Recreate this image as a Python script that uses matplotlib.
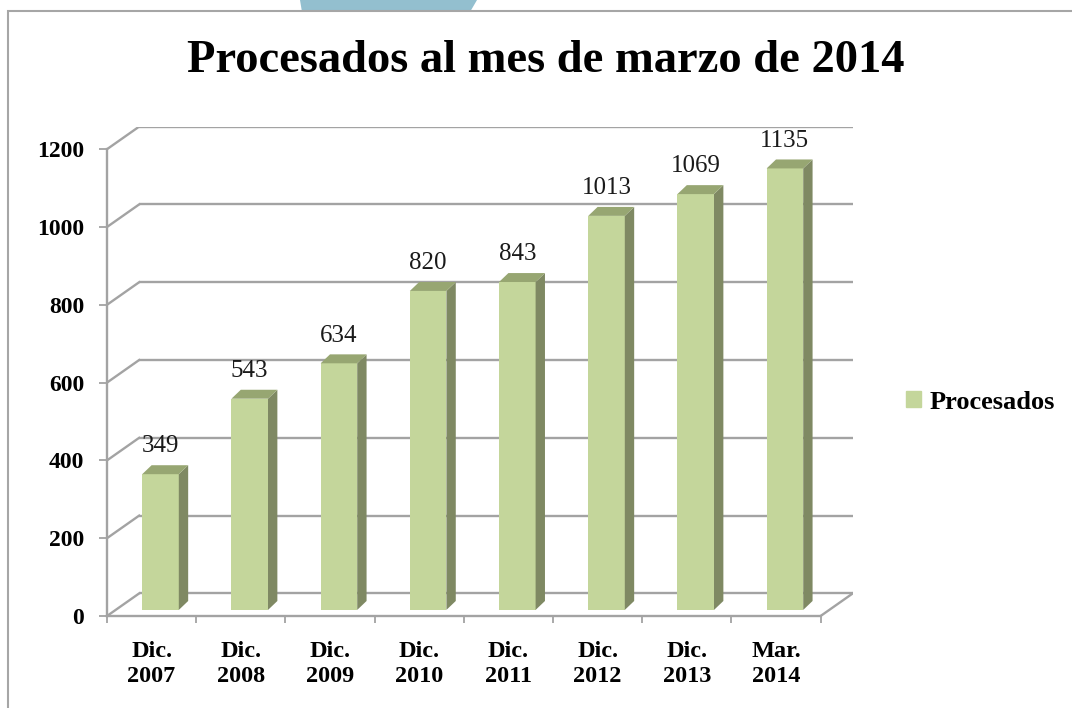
import numpy as np
from matplotlib import pyplot as plt
from matplotlib.patches import Polygon, Rectangle, Patch

# data
categories = ['Dic.\n2007', 'Dic.\n2008', 'Dic.\n2009', 'Dic.\n2010',
              'Dic.\n2011', 'Dic.\n2012', 'Dic.\n2013', 'Mar.\n2014']
procesados = [349, 543, 634, 820, 843, 1013, 1069, 1135]
yticks = [0, 200, 400, 600, 800, 1000, 1200]
series_name = 'Procesados'
title = 'Procesados al mes de marzo de 2014'

W, H = 1072, 708
serif = 'Liberation Serif'
front_c = '#c4d69b'
side_c = '#7f8963'
top_c = '#97a672'
grid_c = '#a3a3a3'

# fake 3d depth of the back wall and of the bars (data units)
wall_dx, wall_dy = 0.36, 58
off_x, off_y = 0.1, 15.6
bar_w = 0.41
bar_dx, bar_dy = 0.105, 23

fig = plt.figure(figsize=(W / 100, H / 100), dpi=100)

# plot box: x=-0.5 at px 107, y=0 at px 616
px_x, px_y = 89.2, 0.389
ax_w = (8 + wall_dx) * px_x
ax_h = (1200 + wall_dy) * px_y
ax = fig.add_axes([107 / W, (H - 616) / H, ax_w / W, ax_h / H])
ax.set_xlim(-0.5, 7.5 + wall_dx)
ax.set_ylim(0, 1200 + wall_dy)
ax.patch.set_visible(False)

# walls / gridlines
for v in yticks:
    ax.plot([-0.5 + wall_dx, 7.5 + wall_dx], [v + wall_dy, v + wall_dy],
            color=grid_c, lw=1.7, zorder=1, solid_capstyle='butt')
    ax.plot([-0.5, -0.5 + wall_dx], [v, v + wall_dy], color=grid_c, lw=1.7, zorder=1)
ax.plot([7.5, 7.5 + wall_dx], [0, wall_dy], color=grid_c, lw=1.7, zorder=1)

for s in ['top', 'right']:
    ax.spines[s].set_visible(False)
for s in ['left', 'bottom']:
    ax.spines[s].set_color(grid_c)
    ax.spines[s].set_linewidth(1.7)
ax.spines['left'].set_bounds(0, 1200)
ax.spines['bottom'].set_bounds(-0.5, 7.5)

# bars
x = np.arange(len(procesados))
vals = np.array(procesados)
lefts = x + off_x - bar_w / 2
rights = lefts + bar_w
tops = off_y + vals
ax.bar(x + off_x, vals, width=bar_w, bottom=off_y, color=front_c, zorder=3)
for l, r, t in zip(lefts, rights, tops):
    side = [(r, off_y), (r + bar_dx, off_y + bar_dy), (r + bar_dx, t + bar_dy), (r, t)]
    top = [(l, t), (r, t), (r + bar_dx, t + bar_dy), (l + bar_dx, t + bar_dy)]
    ax.add_patch(Polygon(side, closed=True, facecolor=side_c, edgecolor='none', zorder=3))
    ax.add_patch(Polygon(top, closed=True, facecolor=top_c, edgecolor='none', zorder=3))

for xi, t, v in zip(x + off_x, tops, procesados):
    ax.text(xi, t + bar_dy + 20, str(v), ha='center', va='bottom',
            fontsize=18, family=serif, color='#1a1a1a', zorder=4)

# ticks
ax.set_yticks(yticks)
ax.set_yticklabels([str(v) for v in yticks], fontsize=17, family=serif, fontweight='bold')
ax.tick_params(axis='y', length=5.5, width=1.3, color=grid_c, pad=11)
ax.set_xticks(np.arange(-0.5, 8, 1))
ax.set_xticklabels([])
ax.tick_params(axis='x', which='major', length=5, width=1.3, color=grid_c)
ax.set_xticks(x, minor=True)
ax.set_xticklabels(categories, minor=True, fontsize=17.5, family=serif,
                   fontweight='bold', linespacing=1.25)
ax.tick_params(axis='x', which='minor', length=0, pad=18)

# title
fig.text(546 / W, 1 - 61 / H, title, ha='center', va='center',
         fontsize=33.5, family=serif, fontweight='bold')

# legend
fig.legend(handles=[Patch(color=front_c)], labels=[series_name],
           loc='center left', bbox_to_anchor=(906 / W, 1 - 402 / H),
           frameon=False, handlelength=0.55, handleheight=0.55,
           handletextpad=0.35, borderpad=0, borderaxespad=0,
           prop={'family': serif, 'weight': 'bold', 'size': 19})

# slide decoration: blue shape behind the frame and the chart frame
blue = [(300 / W, 1), (477 / W, 1), (470 / W, 1 - 12 / H), (302 / W, 1 - 12 / H)]
fig.patches.append(Polygon(blue, closed=True, transform=fig.transFigure,
                           facecolor='#93bfcf', edgecolor='none', zorder=0))
fig.patches.append(Rectangle((8 / W, -0.05), 1.1, (H - 11) / H + 0.05,
                             transform=fig.transFigure, fill=False,
                             edgecolor='#a6a6a6', lw=1.5, zorder=1))

fig.savefig('out.png', dpi=100)
